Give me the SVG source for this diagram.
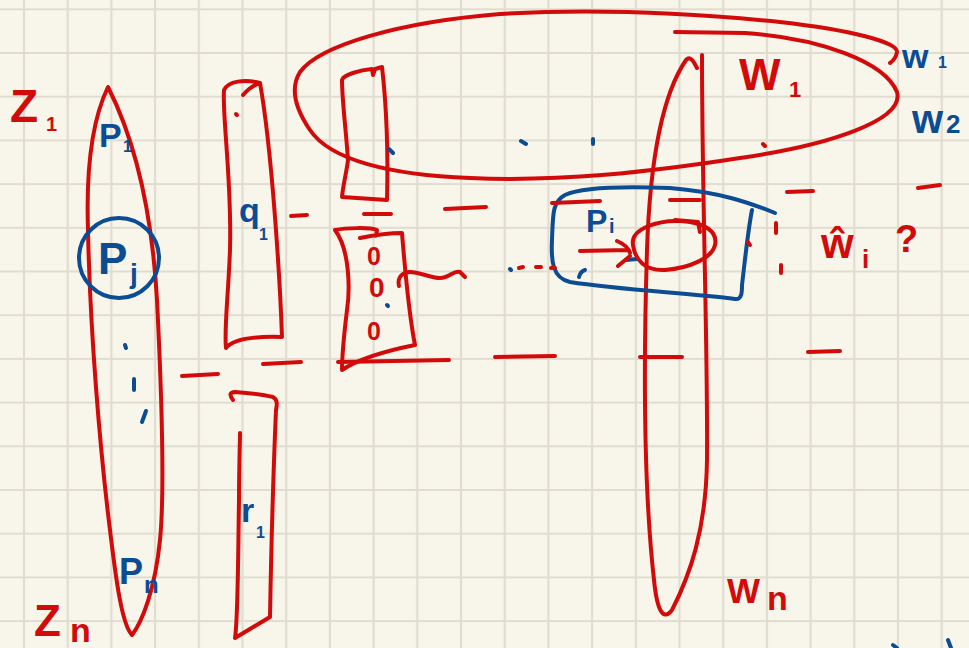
<svg xmlns="http://www.w3.org/2000/svg" width="969" height="648" viewBox="0 0 969 648">
<defs>
<pattern id="grid" x="2.15" y="-12.55" width="43.7" height="43.7" patternUnits="userSpaceOnUse">
<path d="M21.85,0 V43.7 M0,21.85 H43.7" stroke="#e0ddd0" stroke-width="2.2" fill="none"/>
</pattern>
<style>
.r{fill:none;stroke:#d20a0a;stroke-width:4;stroke-linecap:round;stroke-linejoin:round}
.b{fill:none;stroke:#0c4c93;stroke-width:4;stroke-linecap:round;stroke-linejoin:round}
.tr{fill:#d20a0a;font-family:"Liberation Sans",Arial,sans-serif;font-weight:bold}
.tb{fill:#0c4c93;font-family:"Liberation Sans",Arial,sans-serif;font-weight:bold}
</style>
</defs>
<rect width="969" height="648" fill="#f8f5ea"/>
<rect width="969" height="648" fill="url(#grid)"/>

<g id="z-leaf">
<path class="r" d="M108,87 C92,120 86,170 88,230 C90,330 100,450 110,530 C116,580 122,625 132,635 C142,622 155,590 160,540 C165,490 162,400 157,300 C153,230 140,150 108,87 Z"/>
<text class="tr" x="10" y="122" font-size="46">Z</text>
<text class="tr" x="46" y="131" font-size="20">1</text>
<text class="tr" x="34" y="636" font-size="44">Z</text>
<text class="tr" x="70" y="642" font-size="34">n</text>
<text class="tb" x="99" y="147" font-size="34">P</text>
<text class="tb" x="123" y="152" font-size="16">1</text>
<circle class="b" cx="119" cy="258" r="40"/>
<text class="tb" x="98" y="274" font-size="44">P</text>
<text class="tb" x="130" y="283" font-size="28">j</text>
<path class="b" d="M125,345 L126,348 M134,379 L134,390 M142,422 L146,411"/>
<text class="tb" x="119" y="584" font-size="36">P</text>
<text class="tb" x="144" y="593" font-size="24">n</text>
</g>

<g id="q-box">
<path class="r" d="M260,83 C245,79 228,81 224,90 C222,115 232,180 230,250 C228,300 224,330 226,348 C232,340 250,336 282,337 C280,280 272,150 260,83 M243,95 C248,89 254,85 260,83"/>
<path class="r" d="M236,114 L237,115"/>
<text class="tb" x="239" y="222" font-size="34">q</text>
<text class="tb" x="259" y="240" font-size="16">1</text>
</g>

<g id="r-box">
<path class="r" d="M233,400 C229,395 230,392 235,392 C250,393 265,395 273,397 C278,400 277,405 276,410 C273,480 271,560 270,617 L235,638 C238,620 238,560 239,500 C239,470 240,440 240,433"/>
<text class="tb" x="241" y="522" font-size="34">r</text>
<text class="tb" x="256" y="538" font-size="16">1</text>
</g>

<g id="top-box">
<path class="r" d="M342,80 C343,75 360,70 372,69 L373,75 L375,69 L382,67 C387,110 388,160 387,200 L342,197 C343,185 347,170 348,160 C346,130 342,100 342,80 Z"/>
</g>

<g id="vec-box">
<path class="r" d="M376,236 L377,230 C370,227 345,228 335,230 C350,250 350,290 347,310 C344,335 342,355 342,370 C360,358 390,350 415,345 C410,320 405,270 402,233 C390,233 375,235 360,238"/>
<text class="tr" x="367" y="265" font-size="25">0</text>
<text class="tr" x="369" y="297" font-size="28">0</text>
<text class="tr" x="367" y="340" font-size="25">0</text>
<path class="b" d="M387,305 L388,306"/>
<path class="r" d="M399,286 C397,278 402,272 410,272 C420,272 430,278 440,278 C450,278 453,270 460,272 L465,277"/>
</g>

<g id="W1-ellipse">
<path class="r" d="M675,32 L745,33 C820,38 885,62 897,92 C905,120 830,145 740,158 C650,172 560,182 470,178 C390,175 330,160 310,130 C295,108 290,88 300,72 C320,45 400,22 500,14 C600,8 700,14 780,22 C850,30 898,42 897,52 C896,58 893,61 890,63"/>
<path class="b" d="M389,149 L393,153 M521,141 L526,144 M593,139 L593,144"/>
<path class="r" d="M763,144 L765,146"/>
<text class="tr" x="739" y="90" font-size="44">W</text>
<text class="tr" x="789" y="97" font-size="22">1</text>
<text class="tb" x="902" y="68" font-size="34">w</text>
<text class="tb" x="938" y="68" font-size="16">1</text>
<text class="tb" x="912" y="133" font-size="40">w</text>
<text class="tb" x="946" y="133" font-size="26">2</text>
</g>

<g id="Wn-leaf">
<path class="r" d="M697,68 C693,60 690,56 686,60 C662,95 650,160 647,250 C643,380 645,500 654,580 C657,610 663,622 672,610 C690,575 706,530 707,460 C708,350 702,200 702,55"/>
<text class="tr" x="727" y="603" font-size="35">W</text>
<text class="tr" x="767" y="610" font-size="34">n</text>
</g>

<g id="pi-box">
<path class="b" d="M775,213 C750,203 720,192 670,188 C620,186 580,188 565,195 C552,202 553,215 552,240 C551,260 552,278 570,282 C620,290 690,293 735,299 C742,300 742,292 742,285 C745,260 748,230 752,210"/>
<text class="tb" x="586" y="232" font-size="32">P</text>
<text class="tb" x="609" y="233" font-size="20">i</text>
<path class="b" d="M579,277 C580,273 582,271 585,270 M626,260 L637,259"/>
<path class="r" d="M580,251 L628,250 M617,241 C624,244 629,249 630,253 M618,266 L630,256"/>
<path class="r" d="M633,245 C630,228 660,220 680,221 C705,222 718,232 715,245 C712,258 690,268 665,270 C645,271 635,260 633,245 Z"/>
<path class="r" d="M675,220 L698,222 L700,232"/>
<path class="r" d="M748,242 L750,245"/>
</g>

<g id="w-hat">
<text class="tr" x="821" y="258" font-size="42">ŵ</text>
<text class="tr" x="862" y="268" font-size="26">i</text>
<text class="tr" x="895" y="252" font-size="38">?</text>
<path class="r" d="M776,223 L776,233 M781,265 L781,273"/>
</g>

<g id="connectors">
<path class="r" d="M291,216 L307,215 M364,214 L391,214 M445,209 L486,207 M552,203 L600,201 M670,200 L700,200 M787,192 L813,191 M918,188 L940,185"/>
<path class="r" d="M182,376 L218,374 M263,364 L301,362 M338,362 L449,360 M495,357 L555,356 M640,357 L682,357 M808,352 L840,351"/>
<path class="b" d="M510,269 L511,270"/>
<path class="r" d="M519,268 L523,267 M536,267 L541,267 M551,268 L555,268"/>
<path class="b" d="M893,645 L897,648 M948,640 L951,648"/>
</g>
</svg>
